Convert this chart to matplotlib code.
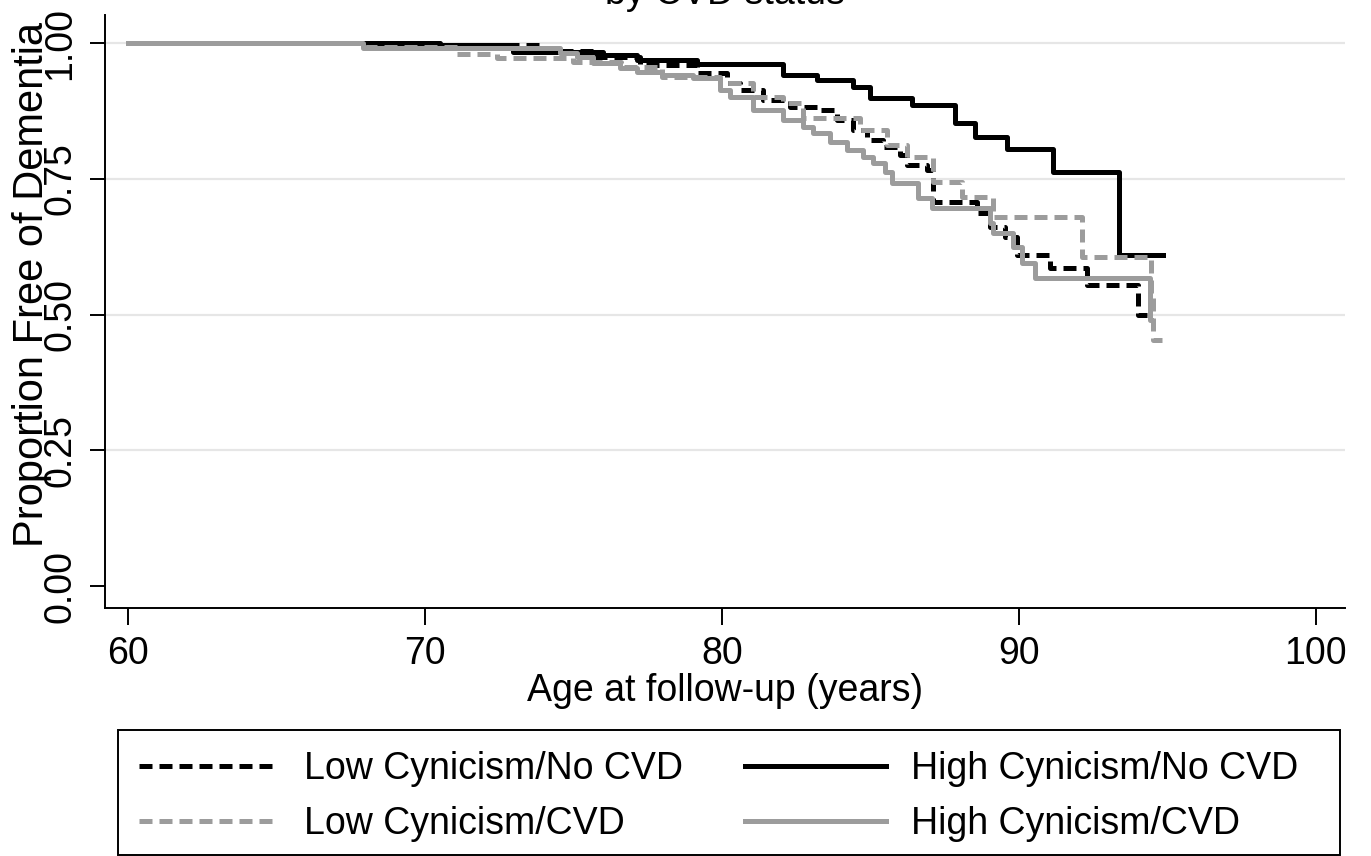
import numpy as np
import matplotlib
matplotlib.use('Agg')
import matplotlib.pyplot as plt
from matplotlib.patches import Rectangle

plt.rcParams['font.family'] = ['Liberation Sans', 'DejaVu Sans']

# Kaplan-Meier step curves (age, proportion free of dementia)
low_nocvd_t = [60, 68.15, 70.4, 73.97, 75.66, 77.24, 79.16, 80.17, 80.61, 81.38, 82.3, 83.3,
               83.87, 84.41, 84.88, 85.42, 86.0, 86.23, 86.9, 87.1, 88.59, 89.02, 89.53, 89.93,
               91.04, 92.29, 94.01, 94.31]
low_nocvd_s = [1.0, 0.998, 0.996, 0.985, 0.975, 0.959, 0.945, 0.926, 0.913, 0.895, 0.882, 0.877,
               0.858, 0.840, 0.821, 0.808, 0.794, 0.775, 0.766, 0.707, 0.687, 0.661, 0.643, 0.610,
               0.586, 0.554, 0.499, 0.499]

high_nocvd_t = [60, 70.5, 72.96, 75.99, 77.14, 79.16, 82.05, 83.2, 84.41, 84.98, 86.4, 87.85,
                88.52, 89.6, 91.14, 93.37, 94.85]
high_nocvd_s = [1.0, 0.996, 0.983, 0.978, 0.969, 0.961, 0.941, 0.932, 0.919, 0.899, 0.886, 0.853,
                0.827, 0.805, 0.762, 0.610, 0.610]

low_cvd_t = [60, 67.98, 71.08, 72.42, 74.98, 76.6, 78.0, 79.93, 81.04, 82.05, 82.73, 84.65,
             85.56, 86.23, 87.1, 88.08, 89.12, 92.12, 94.45, 94.52, 94.81]
low_cvd_s = [1.0, 0.993, 0.980, 0.972, 0.965, 0.956, 0.937, 0.926, 0.901, 0.889, 0.862, 0.840,
             0.812, 0.790, 0.744, 0.716, 0.680, 0.606, 0.53, 0.453, 0.453]

high_cvd_t = [60, 67.91, 74.55, 75.12, 75.66, 76.57, 77.14, 78.0, 79.02, 79.93, 80.27, 81.04,
              82.05, 82.73, 83.06, 83.64, 84.21, 84.75, 85.08, 85.49, 85.72, 86.6, 87.07, 89.02,
              89.12, 89.8, 90.1, 90.54, 94.41, 94.45]
high_cvd_s = [1.0, 0.991, 0.982, 0.974, 0.963, 0.954, 0.947, 0.941, 0.936, 0.913, 0.901, 0.877,
              0.858, 0.845, 0.834, 0.818, 0.803, 0.790, 0.779, 0.762, 0.742, 0.715, 0.696, 0.669,
              0.650, 0.624, 0.595, 0.567, 0.49, 0.49]

labels = ['Low Cynicism/No CVD', 'High Cynicism/No CVD', 'Low Cynicism/CVD', 'High Cynicism/CVD']
x_ticks = [60, 70, 80, 90, 100]
y_ticks = [0.0, 0.25, 0.5, 0.75, 1.0]
y_ticklabels = ['0.00', '0.25', '0.50', '0.75', '1.00']

gray = '#9c9c9c'
lw = 3.6
dash = (2.6, 1.4)
fs = 27

fig = plt.figure(figsize=(13.71, 8.56), dpi=100)
ax = fig.add_axes([105/1371, 1-608/856, (1345-105)/1371, (608-15)/856])

for yv in y_ticks[1:]:
    ax.axhline(yv, color='#e6e6e6', lw=1.6, zorder=0)

l1, = ax.step(low_nocvd_t, low_nocvd_s, where='post', color='black', lw=lw, dashes=dash, label=labels[0])
l2, = ax.step(high_nocvd_t, high_nocvd_s, where='post', color='black', lw=lw, label=labels[1])
l3, = ax.step(low_cvd_t, low_cvd_s, where='post', color=gray, lw=lw, dashes=dash, label=labels[2])
l4, = ax.step(high_cvd_t, high_cvd_s, where='post', color=gray, lw=lw, label=labels[3])

ax.set_xlim(59.23, 100.98)
ax.set_ylim(-0.0405, 1.0516)
ax.set_xticks(x_ticks)
ax.set_yticks(y_ticks)
ax.set_yticklabels(y_ticklabels, rotation=90, va='center')
ax.tick_params(axis='x', direction='out', length=12, width=1.4, pad=8, labelsize=fs)
ax.tick_params(axis='y', direction='out', length=11, width=1.4, pad=8, labelsize=fs)
for s in ['top', 'right']:
    ax.spines[s].set_visible(False)
for s in ['left', 'bottom']:
    ax.spines[s].set_linewidth(1.4)

ax.set_xlabel('Age at follow-up (years)', fontsize=fs, labelpad=1)
ax.set_ylabel('Proportion Free of Dementia', fontsize=30, va='center')
ax.yaxis.set_label_coords(-0.059, 0.545)

fig.text(725/1371, 1-4/856, 'by CVD status', ha='center', va='baseline', fontsize=fs)

leg = fig.legend([l1, l3, l2, l4], [labels[0], labels[2], labels[1], labels[3]],
                 ncol=2, loc='upper left', bbox_to_anchor=(118/1371, 1-730/856),
                 borderaxespad=0, fontsize=fs, handlelength=3.75, handletextpad=0.67,
                 labelspacing=0.52, borderpad=0.55, columnspacing=1.65, frameon=False)
fig.patches.append(Rectangle((118/1371, 1-855/856), (1340-118)/1371, (855-730)/856,
                             transform=fig.transFigure, fill=False, edgecolor='black', lw=1.4))

fig.savefig('out.png', dpi=100)
